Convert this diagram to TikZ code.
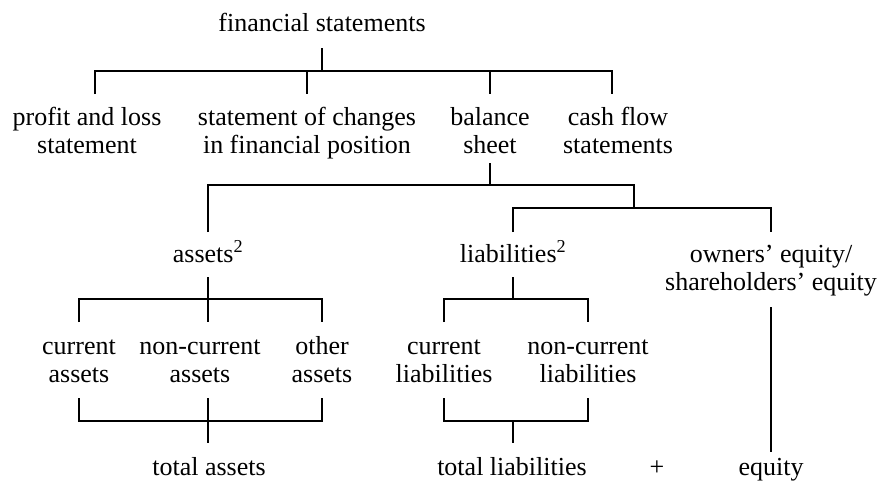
\documentclass[tikz,border=0pt]{standalone}
\usepackage{fontspec}
\setmainfont{Liberation Serif}
\begin{document}
\begin{tikzpicture}[x=1pt,y=-1pt,
  lbl/.style={inner sep=0pt, anchor=base, align=center, font=\fontsize{26}{28}\selectfont},
  conn/.style={line width=1.5pt}]
\useasboundingbox (0,0) rectangle (885,483);
% nodes (base anchor = baseline of the last line)
\node[lbl] (fs) at (322,31) {financial statements};
\node[lbl] (pl) at (87,153) {profit and loss\\statement};
\node[lbl] (sc) at (307,153) {statement of changes\\in financial position};
\node[lbl] (bs) at (490,153) {balance\\sheet};
\node[lbl] (cf) at (618,153) {cash flow\\statements};
\node[lbl] (nAs) at (208,262) {assets\textsuperscript{2}};
\node[lbl] (nLi) at (513,262) {liabilities\textsuperscript{2}};
\node[lbl] (oe) at (771,290) {owners’ equity/\\shareholders’ equity};
\node[lbl] (ca) at (79,382) {current\\assets};
\node[lbl] (nca) at (200,382) {non-current\\assets};
\node[lbl] (oa) at (322,382) {other\\assets};
\node[lbl] (cl) at (444,382) {current\\liabilities};
\node[lbl] (ncl) at (588,382) {non-current\\liabilities};
\node[lbl] (ta) at (209,475) {total assets};
\node[lbl] (tl) at (512,475) {total liabilities};
\node[lbl] (plus) at (657,475) {+};
\node[lbl] (eq) at (771,475) {equity};
% connector end points
\coordinate (plt) at (95,94);
\coordinate (cft) at (612,94);
\coordinate (lej) at (634,208);
% connectors
\draw[conn] (fs |- 0,48) -- (fs |- 0,71);
\draw[conn] (plt) -- (plt |- 0,71) -- (cft |- 0,71) -- (cft);
\draw[conn] (sc |- 0,71) -- (sc |- 0,94);
\draw[conn] (bs |- 0,71) -- (bs |- 0,94);
\draw[conn] (bs |- 0,163) -- (bs |- 0,185);
\draw[conn] (nAs |- 0,232) -- (nAs |- 0,185) -- (lej |- 0,185) -- (lej);
\draw[conn] (nLi |- 0,232) -- (nLi |- 0,208) -- (eq |- 0,208) -- (eq |- 0,232);
\draw[conn] (nAs |- 0,277) -- (nAs |- 0,322);
\draw[conn] (ca |- 0,322) -- (ca |- 0,299) -- (oa |- 0,299) -- (oa |- 0,322);
\draw[conn] (ca |- 0,398) -- (ca |- 0,421) -- (oa |- 0,421) -- (oa |- 0,398);
\draw[conn] (nAs |- 0,398) -- (nAs |- 0,443);
\draw[conn] (nLi |- 0,277) -- (nLi |- 0,299);
\draw[conn] (cl |- 0,322) -- (cl |- 0,299) -- (ncl |- 0,299) -- (ncl |- 0,322);
\draw[conn] (cl |- 0,398) -- (cl |- 0,421) -- (ncl |- 0,421) -- (ncl |- 0,398);
\draw[conn] (nLi |- 0,421) -- (nLi |- 0,443);
\draw[conn] (eq |- 0,307) -- (eq |- 0,452);
\end{tikzpicture}
\end{document}
